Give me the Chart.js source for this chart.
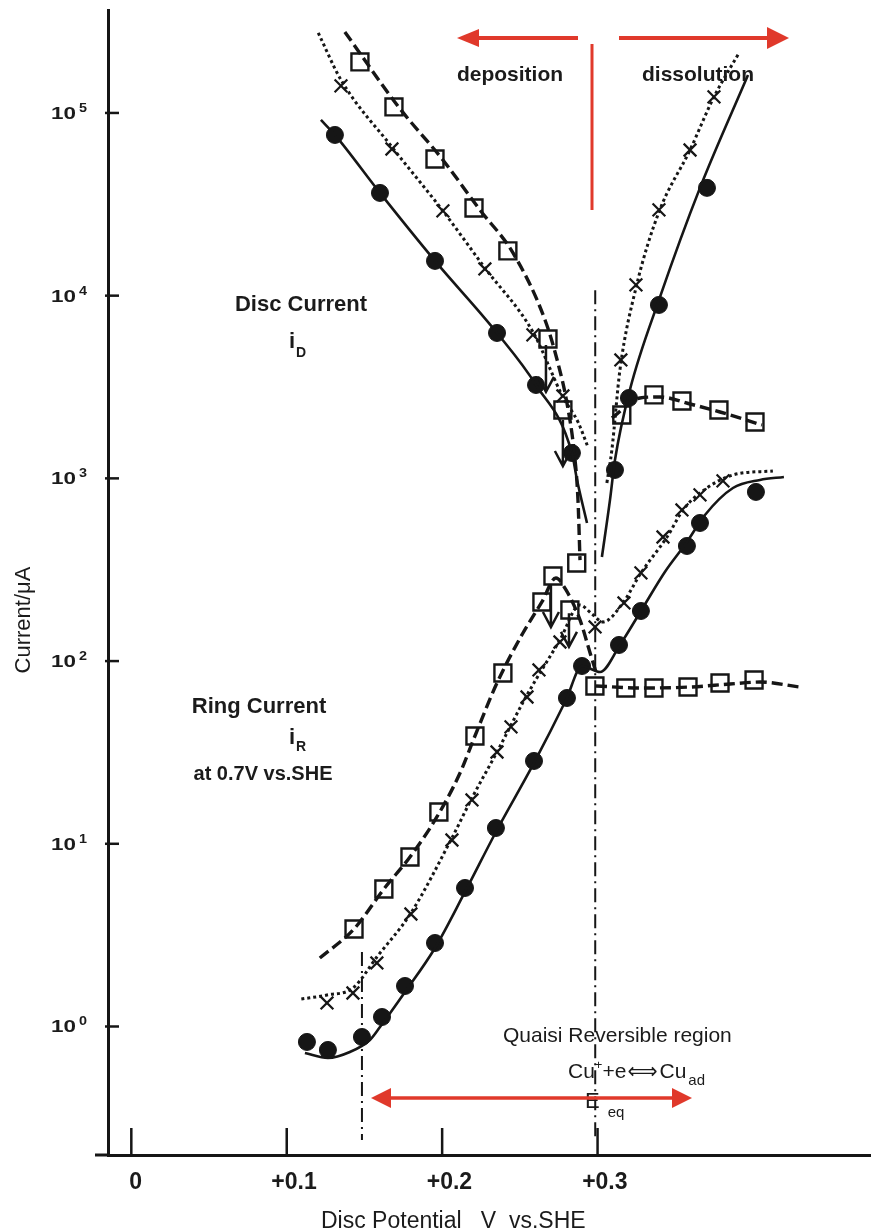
<!DOCTYPE html>
<html>
<head>
<meta charset="utf-8">
<title>Disc and ring currents vs. disc potential</title>
<script src="https://cdn.jsdelivr.net/npm/chart.js@4.4.1/dist/chart.umd.min.js"></script>
<style>
  html, body { margin: 0; padding: 0; background: #ffffff; }
  canvas { display: block; }
</style>
</head>
<body>
<canvas id="chart" width="871" height="1232"></canvas>
<script>
// ---------------- axes ----------------
const potentialTicks = [0, 0.1, 0.2, 0.3];
const potentialTickLabels = ['0', '+0.1', '+0.2', '+0.3'];
const currentTicks = [1, 10, 100, 1000, 10000, 100000];
const currentTickExponents = ['0', '1', '2', '3', '4', '5'];
const X_MIN = -0.015, X_MAX = 0.4753;   // V vs. SHE
const Y_MIN = 0.198, Y_MAX = 366000;     // µA

// ---------------- disc current, measured points ----------------
const discDotV    = [0.1310, 0.1600, 0.1954, 0.2353, 0.2604, 0.2835, 0.3112, 0.3202, 0.3395, 0.3704];
const discDotI    = [75800, 36500, 15500, 6250, 3245, 1377, 1112, 2754, 8895, 38900];
const discCrossV  = [0.1349, 0.1677, 0.2005, 0.2275, 0.2584, 0.2777, 0.3150, 0.3247, 0.3395, 0.3595, 0.3749];
const discCrossI  = [140600, 63500, 29100, 14000, 6100, 2825, 4446, 11450, 29450, 62700, 122400];
const discSquareV = [0.1471, 0.1690, 0.1954, 0.2205, 0.2423, 0.2681, 0.2777, 0.2866, 0.3156, 0.3363, 0.3543, 0.3781, 0.4013];
const discSquareI = [190200, 107900, 56000, 30200, 17580, 5795, 2368, 344, 2223, 2863, 2653, 2368, 2036];

// ---------------- disc current, fitted curves ----------------
const discSolidDepV  = [0.1220, 0.1310, 0.1600, 0.1954, 0.2353, 0.2604, 0.2835, 0.2868, 0.2932];
const discSolidDepI  = [91600, 75800, 36500, 15500, 6250, 3245, 1377, 980, 570];
const discSolidDisV  = [0.3028, 0.3080, 0.3112, 0.3208, 0.3402, 0.3659, 0.3968];
const discSolidDisI  = [371, 762, 1261, 3048, 9840, 38900, 161400];
const discDotDepV    = [0.1203, 0.1349, 0.1677, 0.2005, 0.2275, 0.2584, 0.2777, 0.2874, 0.2938];
const discDotDepI    = [274000, 151700, 65100, 29100, 14180, 6330, 2790, 2036, 1486];
const discDotDisV    = [0.3060, 0.3092, 0.3144, 0.3247, 0.3395, 0.3595, 0.3749, 0.3910];
const discDotDisI    = [944, 1430, 3920, 11020, 28710, 62700, 122400, 213000];
const discDashDepV   = [0.1374, 0.1725, 0.2005, 0.2243, 0.2456, 0.2662, 0.2745, 0.2803, 0.2848, 0.2874, 0.2887];
const discDashDepI   = [277600, 106500, 55300, 29450, 17130, 7360, 4284, 2586, 1430, 762, 357];
const discDashDisV   = [0.3092, 0.3273, 0.3402, 0.3595, 0.3788, 0.4058];
const discDashDisI   = [2142, 2754, 2790, 2553, 2308, 1960];

// ---------------- ring current (0.7 V vs. SHE), measured points ----------------
const ringDotV    = [0.1130, 0.1265, 0.1484, 0.1613, 0.1761, 0.1954, 0.2147, 0.2346, 0.2591, 0.2803, 0.2900, 0.3138, 0.3279, 0.3575, 0.3659, 0.4019];
const ringDotI    = [0.823, 0.744, 0.876, 1.127, 1.666, 2.864, 5.73, 12.2, 28.4, 62.8, 94.0, 122.5, 188, 426.6, 570, 843];
const ringCrossV  = [0.1259, 0.1426, 0.1580, 0.1799, 0.2063, 0.2192, 0.2353, 0.2443, 0.2546, 0.2623, 0.2758, 0.2984, 0.3170, 0.3279, 0.3421, 0.3543, 0.3659, 0.3807];
const ringCrossI  = [1.345, 1.525, 2.227, 4.128, 10.49, 17.37, 31.8, 43.6, 63.6, 89.4, 127.2, 153.7, 208, 303.6, 477.7, 671.5, 811.6, 968];
const ringSquareV = [0.1433, 0.1625, 0.1793, 0.1979, 0.2211, 0.2391, 0.2642, 0.2713, 0.2822, 0.2983, 0.3182, 0.3363, 0.3582, 0.3788, 0.4007];
const ringSquareI = [3.418, 5.656, 8.47, 14.93, 38.9, 86.1, 210.6, 292.3, 190.4, 73.1, 71.2, 71.2, 72.1, 75.9, 78.8];

// ---------------- ring current, fitted curves ----------------
const ringSolidV   = [0.1117, 0.1265, 0.1406, 0.1535, 0.1600, 0.1761, 0.1954, 0.2147, 0.2346, 0.2591, 0.2797, 0.2900, 0.3016, 0.3144, 0.3279, 0.3433, 0.3575, 0.3691, 0.3871, 0.4045, 0.4199];
const ringSolidI   = [0.716, 0.672, 0.725, 0.844, 0.994, 1.545, 2.69, 5.45, 11.6, 27.7, 61.2, 94.0, 87.2, 122.5, 188, 307.5, 448.6, 630.6, 885.6, 980, 1018];
const ringDottedV  = [0.1094, 0.1259, 0.1426, 0.1580, 0.1799, 0.2063, 0.2192, 0.2353, 0.2546, 0.2758, 0.2887, 0.2964, 0.3035, 0.3163, 0.3279, 0.3447, 0.3550, 0.3659, 0.3871, 0.4128];
const ringDottedI  = [1.414, 1.487, 1.624, 2.401, 4.18, 10.76, 17.81, 31.8, 65.2, 130.5, 202.8, 181, 163.7, 208, 303.6, 477.7, 671.5, 831.8, 1044, 1098];
const ringDashedV  = [0.1213, 0.1433, 0.1625, 0.1793, 0.1966, 0.2115, 0.2211, 0.2353, 0.2520, 0.2642, 0.2732, 0.2797, 0.2887, 0.2952, 0.2990];
const ringDashedI  = [2.371, 3.418, 5.656, 8.47, 14.02, 24.4, 38.9, 75.9, 142.5, 210.6, 285, 245, 168, 110.8, 87.2];
const ringFlatV    = [0.2990, 0.3273, 0.3595, 0.3852, 0.4045, 0.4302];
const ringFlatI    = [73.1, 71.2, 72.1, 74.9, 76.8, 72.1];

// ---------------- guide lines and arrows ----------------
const eqPotential = 0.2985;          // dash-dot line at E_eq
const eqLineTop = 10700;
const onsetPotential = 0.1484;       // left edge of the quasi-reversible region
const onsetLineTop = 2.557;
const guideBottom = 0.239;
const arrowV    = [0.2668, 0.2777, 0.2700, 0.2816];
const arrowFrom = [5370, 2089, 261, 183];
const arrowTo   = [2972, 1169, 153.7, 119.5];

const INK = '#161616';
const RED = '#e0392b';
const SANS = '"Liberation Sans", Arial, Helvetica, sans-serif';

function pts(vs, is) { return vs.map((v, k) => ({ x: v, y: is[k] })); }

function curve(vs, is, dash, width) {
  return {
    data: pts(vs, is), showLine: true, pointRadius: 0, pointHoverRadius: 0,
    borderColor: INK, borderWidth: width, borderDash: dash, borderCapStyle: 'butt',
    cubicInterpolationMode: 'monotone', fill: false
  };
}

function markers(vs, is, style, radius, filled, bw) {
  return {
    data: pts(vs, is), showLine: false, pointStyle: style, pointRadius: radius,
    pointHoverRadius: radius, pointBorderWidth: bw, pointBorderColor: INK,
    pointBackgroundColor: filled ? INK : 'rgba(0,0,0,0)'
  };
}

// draws a run of text pieces left to right: [text, font, baseline shift, gap before]
function textRun(ctx, x, y, parts) {
  let cx = x;
  for (const [t, font, dy, gap] of parts) {
    ctx.font = font;
    ctx.fillText(t, cx + (gap || 0), y + (dy || 0));
    cx += ctx.measureText(t).width + (gap || 0);
  }
}

function redArrow(ctx, x1, y, x2, head, half) {
  const dir = Math.sign(x2 - x1);
  ctx.beginPath();
  ctx.moveTo(x1, y);
  ctx.lineTo(x2 - dir * head, y);
  ctx.stroke();
  ctx.beginPath();
  ctx.moveTo(x2, y);
  ctx.lineTo(x2 - dir * head, y - half);
  ctx.lineTo(x2 - dir * head, y + half);
  ctx.closePath();
  ctx.fill();
}

const decorations = {
  id: 'decorations',
  beforeDatasetsDraw(chart) {
    const { ctx, scales: { x, y } } = chart;
    ctx.save();
    ctx.strokeStyle = INK;
    ctx.lineWidth = 2;
    ctx.setLineDash([14, 5, 2, 5]);
    [[eqPotential, eqLineTop], [onsetPotential, onsetLineTop]].forEach(([v, top]) => {
      const px = x.getPixelForValue(v);
      ctx.beginPath();
      ctx.moveTo(px, y.getPixelForValue(top));
      ctx.lineTo(px, y.getPixelForValue(guideBottom));
      ctx.stroke();
    });
    ctx.restore();
  },
  afterDraw(chart) {
    const { ctx, chartArea: a, scales: { x, y } } = chart;
    ctx.save();
    ctx.strokeStyle = INK;
    ctx.fillStyle = '#1b1b1b';
    ctx.lineCap = 'butt';

    // x axis runs a little past the y axis
    ctx.lineWidth = 3;
    ctx.beginPath();
    ctx.moveTo(95, a.bottom);
    ctx.lineTo(a.left, a.bottom);
    ctx.stroke();

    // inward tick marks
    ctx.lineWidth = 2.5;
    potentialTicks.forEach(v => {
      const px = x.getPixelForValue(v);
      ctx.beginPath();
      ctx.moveTo(px, a.bottom);
      ctx.lineTo(px, a.bottom - 27);
      ctx.stroke();
    });
    currentTicks.forEach(v => {
      const py = y.getPixelForValue(v);
      ctx.beginPath();
      ctx.moveTo(a.left - 3, py);
      ctx.lineTo(a.left + 11, py);
      ctx.stroke();
    });

    // x tick labels
    ctx.textBaseline = 'alphabetic';
    ctx.textAlign = 'left';
    ctx.font = 'bold 23px ' + SANS;
    potentialTicks.forEach((v, k) => {
      const label = potentialTickLabels[k];
      const lead = label.startsWith('+') ? ctx.measureText('+').width : 0;
      ctx.fillText(label, x.getPixelForValue(v) - 2 - lead, 1189);
    });

    // y tick labels: 10 with a raised exponent
    currentTicks.forEach((v, k) => {
      const py = y.getPixelForValue(v);
      ctx.save();
      ctx.translate(51, py + 6);
      ctx.scale(1.32, 1);
      ctx.font = 'bold 17px ' + SANS;
      ctx.fillText('10', 0, 0);
      ctx.restore();
      ctx.save();
      ctx.translate(79, py - 1);
      ctx.scale(1.2, 1);
      ctx.font = 'bold 12px ' + SANS;
      ctx.fillText(currentTickExponents[k], 0, 0);
      ctx.restore();
    });

    // axis titles
    ctx.font = '23px ' + SANS;
    ctx.fillText('Disc Potential   V  vs.SHE', 321, 1228);
    ctx.save();
    ctx.translate(30, 620);
    ctx.rotate(-Math.PI / 2);
    ctx.textAlign = 'center';
    ctx.font = '22px ' + SANS;
    ctx.fillText('Current/\u03bcA', 0, 0);
    ctx.restore();

    // region labels
    ctx.textAlign = 'center';
    ctx.font = 'bold 21px ' + SANS;
    ctx.fillText('deposition', 510, 81);
    ctx.fillText('dissolution', 698, 81);
    ctx.font = 'bold 22px ' + SANS;
    ctx.fillText('Disc Current', 301, 311);
    ctx.fillText('Ring Current', 259, 713);
    ctx.font = 'bold 20px ' + SANS;
    ctx.fillText('at 0.7V vs.SHE', 263, 780);
    ctx.textAlign = 'left';
    textRun(ctx, 289, 348, [['i', 'bold 22px ' + SANS, 0], ['D', 'bold 14px ' + SANS, 9, 1]]);
    textRun(ctx, 289, 744, [['i', 'bold 22px ' + SANS, 0], ['R', 'bold 14px ' + SANS, 7, 1]]);

    ctx.font = '21px ' + SANS;
    ctx.fillText('Quaisi Reversible region', 503, 1042);
    const reg = '21px ' + SANS;
    textRun(ctx, 568, 1078, [
      ['Cu', reg, 0], ['+', '13px ' + SANS, -9], ['+e', reg, 0],
      ['\u27fa', '21px "DejaVu Sans", sans-serif', 0, 1], ['Cu', reg, 0, 2], ['ad', '15px ' + SANS, 7, 2]
    ]);
    textRun(ctx, 585, 1108, [['E', '22px ' + SANS, 0], ['eq', '15px ' + SANS, 9, 8]]);

    // black arrows marking the jumps near E_eq
    ctx.lineWidth = 2.5;
    ctx.strokeStyle = INK;
    arrowV.forEach((v, k) => {
      const px = x.getPixelForValue(v);
      const y1 = y.getPixelForValue(arrowFrom[k]);
      const y2 = y.getPixelForValue(arrowTo[k]);
      ctx.beginPath();
      ctx.moveTo(px, y1);
      ctx.lineTo(px, y2);
      ctx.moveTo(px - 8, y2 - 15);
      ctx.lineTo(px, y2);
      ctx.lineTo(px + 8, y2 - 15);
      ctx.stroke();
    });

    // red arrows: deposition / dissolution directions and the quasi-reversible span
    ctx.strokeStyle = RED;
    ctx.fillStyle = RED;
    ctx.lineWidth = 4;
    redArrow(ctx, 578, 38, 457, 22, 9);
    redArrow(ctx, 619, 38, 789, 22, 11);
    ctx.lineWidth = 3;
    ctx.beginPath();
    ctx.moveTo(592, 44);
    ctx.lineTo(592, 210);
    ctx.stroke();
    ctx.lineWidth = 3.5;
    redArrow(ctx, 530, 1098, 371, 20, 10);
    redArrow(ctx, 530, 1098, 692, 20, 10);
    ctx.restore();
  }
};

new Chart(document.getElementById('chart'), {
  type: 'scatter',
  data: {
    datasets: [
      curve(discSolidDepV, discSolidDepI, [], 2.6),
      curve(discSolidDisV, discSolidDisI, [], 2.6),
      curve(discDotDepV, discDotDepI, [3, 3], 3),
      curve(discDotDisV, discDotDisI, [3, 3], 3),
      curve(discDashDepV, discDashDepI, [11, 5], 3.4),
      curve(discDashDisV, discDashDisI, [11, 5], 3.4),
      curve(ringSolidV, ringSolidI, [], 2.6),
      curve(ringDottedV, ringDottedI, [3, 3], 3),
      curve(ringDashedV, ringDashedI, [11, 5], 3.4),
      curve(ringFlatV, ringFlatI, [11, 5], 3.4),
      markers(discDotV, discDotI, 'circle', 8.5, true, 1),
      markers(discCrossV, discCrossI, 'crossRot', 9, false, 2.2),
      markers(discSquareV, discSquareI, 'rect', 12, false, 2.4),
      markers(ringDotV, ringDotI, 'circle', 8.5, true, 1),
      markers(ringCrossV, ringCrossI, 'crossRot', 9, false, 2.2),
      markers(ringSquareV, ringSquareI, 'rect', 12, false, 2.4)
    ]
  },
  options: {
    responsive: false,
    devicePixelRatio: 1,
    animation: false,
    events: [],
    layout: { autoPadding: false, padding: { left: 108, right: 1, top: 10, bottom: 77 } },
    plugins: { legend: { display: false }, tooltip: { enabled: false } },
    scales: {
      x: {
        type: 'linear', min: X_MIN, max: X_MAX,
        grid: { display: false, drawTicks: false },
        ticks: { display: false },
        border: { display: true, color: INK, width: 3 }
      },
      y: {
        type: 'logarithmic', min: Y_MIN, max: Y_MAX,
        grid: { display: false, drawTicks: false },
        ticks: { display: false },
        border: { display: true, color: INK, width: 3 }
      }
    }
  },
  plugins: [decorations]
});
</script>
</body>
</html>
